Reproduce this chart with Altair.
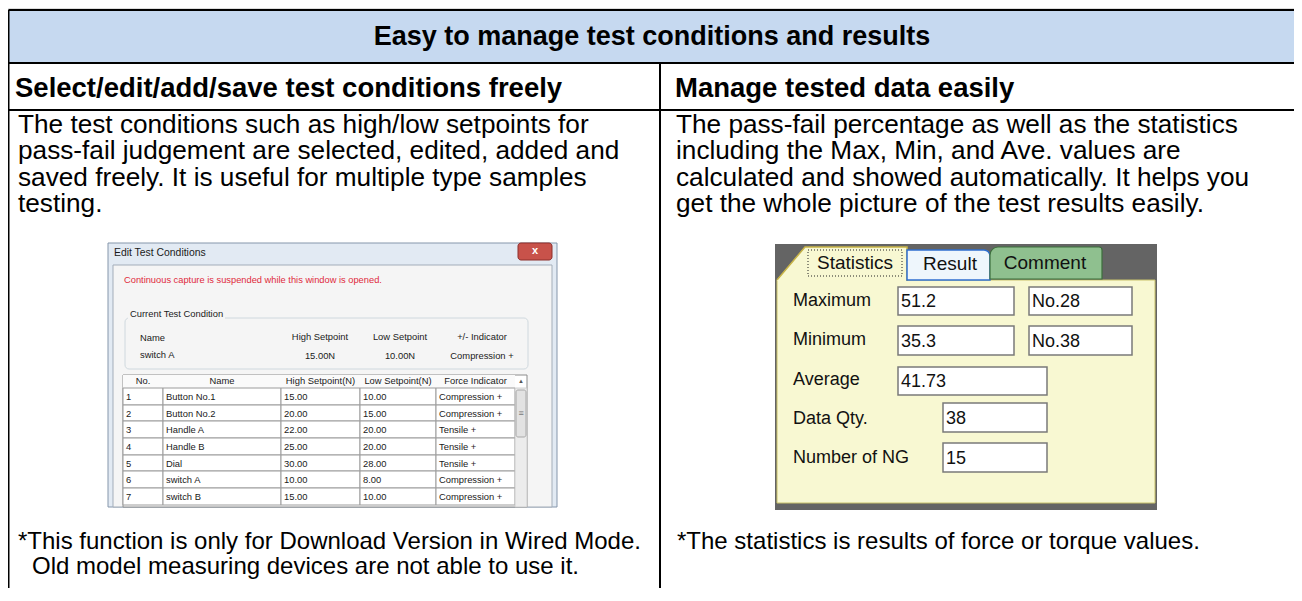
import altair as alt
import pandas as pd

# ---------------- text content ----------------
TITLE = "Easy to manage test conditions and results"
SUBHEADS = ["Select/edit/add/save test conditions freely", "Manage tested data easily"]
LEFT_BODY = [
    "The test conditions such as high/low setpoints for",
    "pass-fail judgement are selected, edited, added and",
    "saved freely. It is useful for multiple type samples",
    "testing.",
]
RIGHT_BODY = [
    "The pass-fail percentage as well as the statistics",
    "including the Max, Min, and Ave. values are",
    "calculated and showed automatically. It helps you",
    "get the whole picture of the test results easily.",
]
LEFT_NOTES = [
    "*This function is only for Download Version in Wired Mode.",
    "Old model measuring devices are not able to use it.",
]
RIGHT_NOTES = ["*The statistics is results of force or torque values."]

# screenshot 1: Edit Test Conditions dialog
DIALOG_TITLE = "Edit Test Conditions"
DIALOG_WARNING = "Continuous capture is suspended while this window is opened."
GROUP_LABEL = "Current Test Condition"
CURRENT_HEADERS = ["Name", "High Setpoint", "Low Setpoint", "+/- Indicator"]
CURRENT_VALUES = ["switch A", "15.00N", "10.00N", "Compression +"]
TABLE_HEADERS = ["No.", "Name", "High Setpoint(N)", "Low Setpoint(N)", "Force Indicator"]
COND_NO = ["1", "2", "3", "4", "5", "6", "7"]
COND_NAMES = ["Button No.1", "Button No.2", "Handle A", "Handle B", "Dial", "switch A", "switch B"]
COND_HIGH = [15.00, 20.00, 22.00, 25.00, 30.00, 10.00, 15.00]
COND_LOW = [10.00, 15.00, 20.00, 20.00, 28.00, 8.00, 10.00]
COND_INDICATOR = ["Compression +", "Compression +", "Tensile +", "Tensile +",
                  "Tensile +", "Compression +", "Compression +"]

# screenshot 2: statistics panel
TABS = ["Statistics", "Result", "Comment"]
STAT_LABELS = ["Maximum", "Minimum", "Average", "Data Qty.", "Number of NG"]
STAT_VALUES = ["51.2", "35.3", "41.73", "38", "15"]
STAT_INDEX = ["No.28", "No.38"]

# ---------------- layout helpers ----------------
X0, X1 = 8, 1294
Y0, Y1 = 8, 588
W, H = X1 - X0, Y1 - Y0
XS = alt.Scale(domain=[X0, X1])
YS = alt.Scale(domain=[Y0, Y1], reverse=True)
FONT = "Liberation Sans"


def rects(rows, **mk):
    df = pd.DataFrame(rows, columns=["x", "x2", "y", "y2"])
    return alt.Chart(df).mark_rect(**mk).encode(
        x=alt.X("x:Q", scale=XS, axis=None), x2="x2:Q",
        y=alt.Y("y:Q", scale=YS, axis=None), y2="y2:Q")


def rules(rows, **mk):
    df = pd.DataFrame(rows, columns=["x", "x2", "y", "y2"])
    return alt.Chart(df).mark_rule(**mk).encode(
        x=alt.X("x:Q", scale=XS, axis=None), x2="x2:Q",
        y=alt.Y("y:Q", scale=YS, axis=None), y2="y2:Q")


def texts(rows, **mk):
    df = pd.DataFrame(rows, columns=["x", "y", "t"])
    base = dict(font=FONT, baseline="middle", align="left")
    base.update(mk)
    return alt.Chart(df).mark_text(**base).encode(
        x=alt.X("x:Q", scale=XS, axis=None),
        y=alt.Y("y:Q", scale=YS, axis=None),
        text="t:N")


layers = []

# ---------------- main table ----------------
TL, TR, TT, TB = 8.5, 1310, 10, 610
DIV = 660
layers.append(rects([(TL, TR, TT, 63)], fill="#c6d9f0"))
layers.append(rules([
    (TL, TR, TT, TT), (TL, TR, 63, 63), (TL, TR, 110, 110),
    (TL, TL, TT, TB), (DIV, DIV, 63, TB),
], color="#000000", strokeWidth=2))

layers.append(texts([(652, 37, TITLE)], fontSize=27, fontWeight="bold", align="center"))
layers.append(texts([(15, 89, SUBHEADS[0]), (675, 89, SUBHEADS[1])],
                    fontSize=27.5, fontWeight="bold"))
# body paragraphs (multi-line text, first baseline at y)
layers.append(texts([(18, 133.3, "\n".join(LEFT_BODY)), (676, 133.3, "\n".join(RIGHT_BODY))],
                    fontSize=26.2, lineBreak="\n", lineHeight=26.2, baseline="alphabetic"))
layers.append(texts([(18, 542, LEFT_NOTES[0]), (32, 567, LEFT_NOTES[1]),
                     (677, 542, RIGHT_NOTES[0])], fontSize=24))

# ---------------- screenshot 1 ----------------
S1 = 9.4
layers.append(rects([(108, 557, 243, 507)], fill="#e2eaf3", stroke="#8596ab", strokeWidth=1))
layers.append(rects([(113, 552, 265, 507)], fill="#f5f5f5", stroke="#a3adb9", strokeWidth=1))
layers.append(rects([(518, 552, 243, 260)], fill="#c8524a", stroke="#8e2f2a",
                    strokeWidth=1, cornerRadius=3))
layers.append(texts([(535, 251, "x")], fontSize=11, fontWeight="bold", color="#ffffff",
                    align="center"))
layers.append(texts([(114, 253, DIALOG_TITLE)], fontSize=10.4, color="#1a1a1a"))
layers.append(texts([(124, 280, DIALOG_WARNING)], fontSize=9.3, color="#e02a3c"))
layers.append(rects([(125, 528, 318, 369)], fill="#f5f5f5", stroke="#cfd8de",
                    strokeWidth=1, cornerRadius=4))
layers.append(rects([(128, 225, 312, 320)], fill="#f5f5f5"))
layers.append(texts([(130, 314, GROUP_LABEL)], fontSize=S1, color="#1a1a1a"))
layers.append(texts([(140, 338, CURRENT_HEADERS[0]), (140, 355, CURRENT_VALUES[0])],
                    fontSize=S1, color="#1a1a1a"))
cur_x = [320, 400, 482]
layers.append(texts(
    [(x, 337, t) for x, t in zip(cur_x, CURRENT_HEADERS[1:])] +
    [(x, 356, t) for x, t in zip(cur_x, CURRENT_VALUES[1:])],
    fontSize=S1, color="#1a1a1a", align="center"))

cols = [123, 163, 281, 360, 436, 515]
rows_y = [388, 405, 421, 438, 455, 471, 488, 505]
layers.append(rects([(123, 527, 375, 507)], fill="#ffffff", stroke="#8c8c8c", strokeWidth=1))
layers.append(rects([(123, 515, 375, 388)], fill="#fafafa"))
layers.append(texts([((cols[i] + cols[i + 1]) / 2, 381, h) for i, h in enumerate(TABLE_HEADERS)],
                    fontSize=S1, color="#1a1a1a", align="center"))
cell_rows = []
cell_text = []
for r in range(len(COND_NO)):
    vals = [COND_NO[r], COND_NAMES[r], f"{COND_HIGH[r]:.2f}", f"{COND_LOW[r]:.2f}",
            COND_INDICATOR[r]]
    for c in range(5):
        cell_rows.append((cols[c], cols[c + 1], rows_y[r], rows_y[r + 1]))
        cell_text.append((cols[c] + 3, (rows_y[r] + rows_y[r + 1]) / 2 + 0.5, vals[c]))
layers.append(rects(cell_rows, fill="#ffffff", stroke="#9c9c9c", strokeWidth=1))
layers.append(texts(cell_text, fontSize=S1, color="#1a1a1a"))
layers.append(rects([(515, 527, 388, 507)], fill="#ececec", stroke="#c8c8c8", strokeWidth=0.8))
layers.append(rects([(516, 526, 390, 437)], fill="#e2e2e2", stroke="#9a9a9a",
                    strokeWidth=0.8, cornerRadius=2))
layers.append(texts([(521, 413, "≡")], fontSize=9, color="#777777", align="center"))
layers.append(texts([(521, 381, "▲")], fontSize=6, color="#555555", align="center"))

# ---------------- screenshot 2 ----------------
layers.append(rects([(775, 1157, 244, 510)], fill="#646464"))
layers.append(rects([(777, 1155, 280, 503)], fill="#f8f8d2", stroke="#c9c26a", strokeWidth=1))
# Statistics tab (with diagonal corner)
tab_df = pd.DataFrame({"x": [777, 805, 907], "y": [280, 247, 247], "y2": [281, 281, 281]})
layers.append(alt.Chart(tab_df).mark_area(color="#f8f8d2", interpolate="linear").encode(
    x=alt.X("x:Q", scale=XS, axis=None), y=alt.Y("y:Q", scale=YS, axis=None), y2="y2:Q"))
tab_line = pd.DataFrame({"x": [777, 805, 907, 907], "y": [280, 247, 247, 281],
                         "o": [0, 1, 2, 3]})
layers.append(alt.Chart(tab_line).mark_line(color="#c8b447", strokeWidth=1.5).encode(
    x=alt.X("x:Q", scale=XS, axis=None), y=alt.Y("y:Q", scale=YS, axis=None), order="o:Q"))
layers.append(rects([(907, 990, 250, 280)], fill="#eef6fc", stroke="#2f6fd0",
                    strokeWidth=1.5, cornerRadiusTopRight=6))
layers.append(rects([(990, 1102, 247, 279)], fill="#8fc08f", stroke="#3d6e3d",
                    strokeWidth=1.2, cornerRadiusTopLeft=8, cornerRadiusTopRight=3))
layers.append(rects([(808, 902, 250, 276)], fill="transparent", stroke="#222222",
                    strokeWidth=1, strokeDash=[1, 2]))
layers.append(texts([(855, 263, TABS[0]), (950, 264, TABS[1]), (1045, 263, TABS[2])],
                    fontSize=19, color="#111111", align="center"))
label_y = [301, 340, 380, 419, 458]
layers.append(texts([(793, y, t) for y, t in zip(label_y, STAT_LABELS)],
                    fontSize=18, color="#111111"))
boxes = [(898, 1014, 287, 315), (898, 1014, 326, 355), (898, 1047, 367, 395),
         (943, 1047, 403, 432), (943, 1047, 443, 472)]
idx_boxes = [(1029, 1132, 287, 315), (1029, 1132, 326, 355)]
layers.append(rects(boxes + idx_boxes, fill="#ffffff", stroke="#7a7a7a", strokeWidth=1.5))
val_text = [(b[0] + 3, (b[2] + b[3]) / 2 + 1, v) for b, v in zip(boxes, STAT_VALUES)]
val_text += [(b[0] + 3, (b[2] + b[3]) / 2 + 1, v) for b, v in zip(idx_boxes, STAT_INDEX)]
layers.append(texts(val_text, fontSize=18, color="#111111"))

chart = alt.layer(*layers).properties(
    width=W, height=H, padding=0, autosize=alt.AutoSizeParams(type="none")
).configure_view(stroke=None).configure(background="#ffffff")

chart.save("out.html", embed_options={"renderer": "svg", "actions": False})
